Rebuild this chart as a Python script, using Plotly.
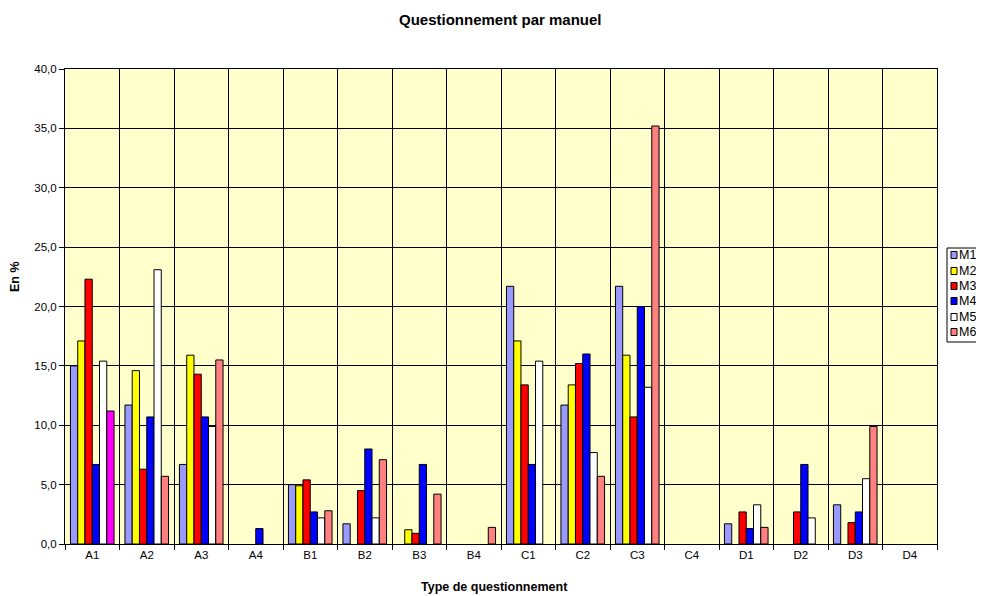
import plotly.graph_objects as go

categories = ["A1", "A2", "A3", "A4", "B1", "B2", "B3", "B4",
              "C1", "C2", "C3", "C4", "D1", "D2", "D3", "D4"]
series_names = ["M1", "M2", "M3", "M4", "M5", "M6"]
# None = no bar drawn (0 %)
m1 = [15.0, 11.7, 6.7, None, 5.0, 1.7, None, None, 21.7, 11.7, 21.7, None, 1.7, None, 3.3, None]
m2 = [17.1, 14.6, 15.9, None, 4.9, None, 1.2, None, 17.1, 13.4, 15.9, None, None, None, None, None]
m3 = [22.3, 6.3, 14.3, None, 5.4, 4.5, 0.9, None, 13.4, 15.2, 10.7, None, 2.7, 2.7, 1.8, None]
m4 = [6.7, 10.7, 10.7, 1.3, 2.7, 8.0, 6.7, None, 6.7, 16.0, 20.0, None, 1.3, 6.7, 2.7, None]
m5 = [15.4, 23.1, 9.9, None, 2.2, 2.2, None, None, 15.4, 7.7, 13.2, None, 3.3, 2.2, 5.5, None]
m6 = [11.2, 5.7, 15.5, None, 2.8, 7.1, 4.2, 1.4, None, 5.7, 35.2, None, 1.4, None, 9.9, None]
y_ticks = [0, 5, 10, 15, 20, 25, 30, 35, 40]

series_values = [m1, m2, m3, m4, m5, m6]
colors = ["#9999FF", "#FFFF00", "#FF0000", "#0000FF", "#FFFFFF", "#FF8080"]
m6_colors = ["#FF00FF"] + ["#FF8080"] * (len(categories) - 1)

FONT = "Liberation Sans, Arial, sans-serif"

fig = go.Figure()
for i, (name, vals) in enumerate(zip(series_names, series_values)):
    col = m6_colors if name == "M6" else colors[i]
    fig.add_trace(go.Bar(
        x=categories, y=vals, name=name,
        marker=dict(color=col, line=dict(color="#000000", width=1)),
        showlegend=False,
    ))

# page body has an 8px margin: work in reference pixels, shift by OFF
OFF = 8
W, H = 984 - OFF, 596 - OFF
PL, PR, PT, PB = 65, 937, 69, 544  # plot area in reference pixels
L, T = PL - OFF, PT - OFF
R = W - (PR - OFF)
B = H - (PB - OFF)
pw, ph = PR - PL, PB - PT

def px_x(px):
    return (px - PL) / pw

def px_y(py):
    return (PB - py) / ph

fig.update_layout(
    width=W, height=H,
    margin=dict(l=L, r=R, t=T, b=B),
    paper_bgcolor="#FFFFFF",
    plot_bgcolor="#FFFFCC",
    barmode="group",
    bargap=0.2,
    bargroupgap=0,
    separators=", ",
    font=dict(family=FONT, size=11, color="#000000"),
    xaxis=dict(
        type="category", tickson="boundaries",
        showgrid=True, gridcolor="#000000", gridwidth=1,
        showline=True, linecolor="#000000", linewidth=1, mirror=True,
        ticks="outside", ticklen=5, tickcolor="#000000",
        tickfont=dict(family=FONT, size=11.5),
    ),
    yaxis=dict(
        range=[0, 40], tickvals=y_ticks, tickformat=".1f",
        showgrid=True, gridcolor="#000000", gridwidth=1,
        showline=True, linecolor="#000000", linewidth=1, mirror=True,
        ticks="outside", ticklen=5, tickcolor="#000000",
        zeroline=False,
        tickfont=dict(family=FONT, size=11.5),
    ),
)

annotations = [
    dict(text="<b>Questionnement par manuel</b>", xref="paper", yref="paper",
         x=px_x(500), y=px_y(20), xanchor="center", yanchor="middle",
         showarrow=False, font=dict(family=FONT, size=15)),
    dict(text="<b>Type de questionnement</b>", xref="paper", yref="paper",
         x=px_x(494), y=px_y(587), xanchor="center", yanchor="middle",
         showarrow=False, font=dict(family=FONT, size=12.5)),
    dict(text="<b>En %</b>", xref="paper", yref="paper",
         x=px_x(15), y=px_y(277), xanchor="center", yanchor="middle",
         textangle=-90, showarrow=False, font=dict(family=FONT, size=12.5)),
]

shapes = [dict(type="rect", xref="paper", yref="paper",
               x0=px_x(947), x1=px_x(992), y0=px_y(342), y1=px_y(248),
               line=dict(color="#000000", width=1), fillcolor="#FFFFFF", layer="above")]

centers = [255, 271, 286, 301, 317, 332]
for name, col, cy in zip(series_names, colors, centers):
    shapes.append(dict(type="rect", xref="paper", yref="paper",
                       x0=px_x(951), x1=px_x(957), y0=px_y(cy + 3.5), y1=px_y(cy - 3.5),
                       line=dict(color="#000000", width=1), fillcolor=col, layer="above"))
    annotations.append(dict(text=name, xref="paper", yref="paper",
                            x=px_x(957), y=px_y(cy), xanchor="left", yanchor="middle",
                            showarrow=False, font=dict(family=FONT, size=12.5)))

fig.update_layout(annotations=annotations, shapes=shapes)

fig.write_html("out.html")
